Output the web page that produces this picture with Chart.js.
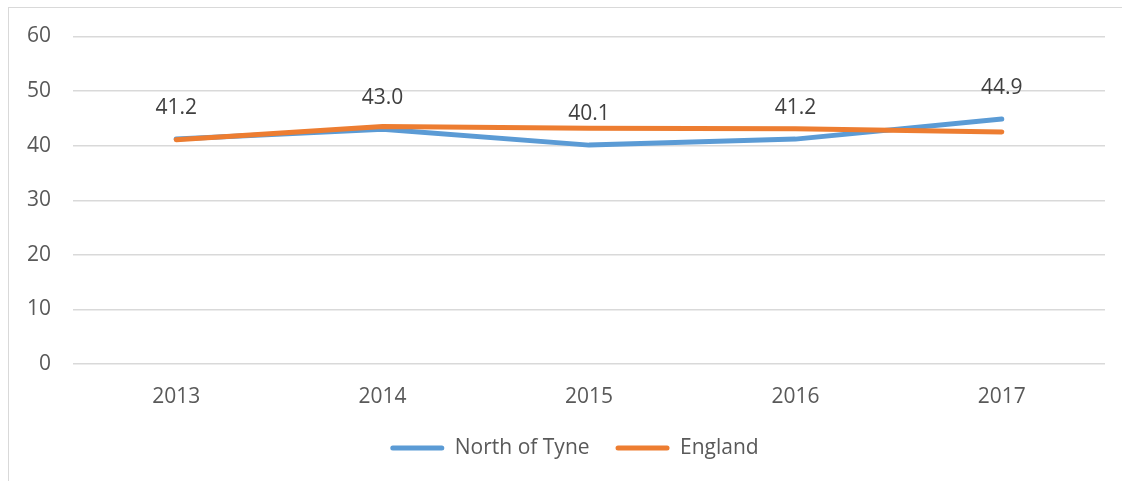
<!DOCTYPE html>
<html>
<head>
<meta charset="utf-8">
<script src="https://cdn.jsdelivr.net/npm/chart.js@4/dist/chart.umd.min.js"></script>
<style>
  html, body { margin: 0; padding: 0; background: #fff; }
  #frame { position: absolute; left: 8px; top: 7px; width: 1200px; height: 600px;
           border-left: 1.5px solid #d9d9d9; border-top: 1.5px solid #d9d9d9; box-sizing: border-box; }
  #wrap { position: absolute; left: 0; top: 0; width: 1122px; height: 481px; }
</style>
</head>
<body>
<div id="frame"></div>
<div id="wrap"><canvas id="c" width="1122" height="481"></canvas></div>
<script>
const categories = ['2013', '2014', '2015', '2016', '2017'];
const northOfTyne = [41.2, 43.0, 40.1, 41.2, 44.9];
const england = [41.1, 43.5, 43.2, 43.1, 42.5];
const yTicks = [0, 10, 20, 30, 40, 50, 60];
const seriesNames = ['North of Tyne', 'England'];

const FONT = '"Open Sans", "Liberation Sans", sans-serif';

const labelPlugin = {
  id: 'valueLabels',
  afterDatasetsDraw(chart) {
    const meta = chart.getDatasetMeta(0);
    const ctx = chart.ctx;
    ctx.save();
    ctx.font = '21px ' + FONT;
    ctx.fillStyle = '#404040';
    ctx.textAlign = 'center';
    ctx.textBaseline = 'middle';
    meta.data.forEach((pt, i) => {
      ctx.fillText(northOfTyne[i].toFixed(1), pt.x, pt.y - 31);
    });
    ctx.restore();
  }
};

new Chart(document.getElementById('c'), {
  type: 'line',
  data: {
    labels: categories,
    datasets: [
      { label: seriesNames[0], data: northOfTyne, borderColor: '#5B9BD5', backgroundColor: '#5B9BD5',
        borderWidth: 5, pointRadius: 0, borderCapStyle: 'round', borderJoinStyle: 'round', tension: 0, order: 1 },
      { label: seriesNames[1], data: england, borderColor: '#ED7D31', backgroundColor: '#ED7D31',
        borderWidth: 5, pointRadius: 0, borderCapStyle: 'round', borderJoinStyle: 'round', tension: 0, order: 0 }
    ]
  },
  options: {
    responsive: false,
    animation: false,
    events: [],
    layout: { padding: { left: 27, right: 0, top: 36.5, bottom: 12.5 } },
    plugins: {
      tooltip: { enabled: false },
      legend: {
        position: 'bottom',
        labels: {
          font: { family: FONT, size: 21 },
          color: '#595959',
          boxWidth: 54,
          boxHeight: 5,
          padding: 26,
          sort: (a, b) => a.datasetIndex - b.datasetIndex,
          generateLabels(chart) {
            return chart.data.datasets.map((ds, i) => ({
              text: ds.label, fillStyle: ds.borderColor, strokeStyle: ds.borderColor,
              lineWidth: 0, borderRadius: 2.5, datasetIndex: i, hidden: false, fontColor: '#595959'
            }));
          }
        }
      }
    },
    scales: {
      x: {
        offset: true,
        grid: { display: false, drawTicks: false },
        border: { display: false },
        ticks: { font: { family: FONT, size: 21 }, color: '#595959', padding: 20, maxRotation: 0 },
        afterFit(scale) { scale.height = 47.5; }
      },
      y: {
        min: 0, max: 60,
        afterBuildTicks(scale) { scale.ticks = yTicks.map(v => ({ value: v })); },
        grid: { color: '#d9d9d9', lineWidth: 1.5, drawTicks: false },
        border: { display: false },
        ticks: { font: { family: FONT, size: 21 }, color: '#595959', padding: 22 },
        afterFit(scale) { scale.width = 46; }
      },
      y2: {
        position: 'right',
        display: true,
        grid: { display: false, drawTicks: false },
        border: { display: false },
        ticks: { display: false },
        afterFit(scale) { scale.width = 17; }
      }
    }
  },
  plugins: [labelPlugin]
});
</script>
</body>
</html>
